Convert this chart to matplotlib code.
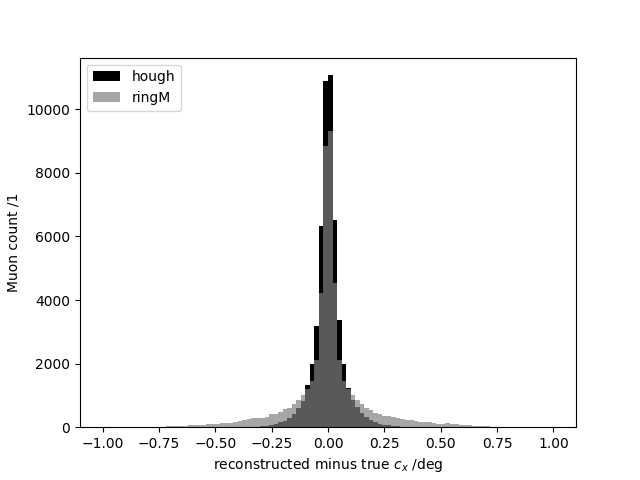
import numpy as np
import matplotlib
matplotlib.use('Agg')
import matplotlib.pyplot as plt

# 100 bins from -1 to 1 deg
edges = np.linspace(-1.0, 1.0, 101)
centers = 0.5 * (edges[:-1] + edges[1:])

hough = [0] * 20 + [1, 1, 2, 2, 2,
         3, 4, 5, 6, 8, 10, 12, 15, 18, 22,
         30, 45, 70, 100, 150, 210, 300, 430, 600, 820,
         1320, 1981, 3176, 6320, 10880, 11070, 6510, 3365, 1981, 1248,
         870, 640, 460, 330, 240, 170, 115, 80, 55, 38,
         27, 20, 15, 12, 9, 7, 5, 4, 3, 2,
         2, 1, 1, 1, 1] + [0] * 20

ringM = [0] * 13 + [15, 25, 30, 35, 42, 50, 58, 65, 72, 80, 90,
         105, 115, 125, 130, 135, 150, 190, 235, 250, 300,
         275, 300, 330, 400, 430, 490, 565, 610, 745, 850,
         1006, 1195, 1457, 2107, 4224, 8836, 9308, 4540, 2107, 1457,
         1195, 1006, 870, 745, 610, 535, 460, 430, 355, 345,
         325, 295, 270, 240, 220, 200, 170, 150, 150, 135,
         115, 115, 125, 95, 85, 75, 65, 55, 45, 35,
         28, 25, 20, 15] + [0] * 12

fig, ax = plt.subplots(figsize=(6.4, 4.8), dpi=100)
ax.hist(centers, bins=edges, weights=hough, color='black', label='hough')
ax.hist(centers, bins=edges, weights=ringM, color='gray', alpha=0.7, label='ringM')
ax.set_xlabel('reconstructed minus true $c_x$ /deg')
ax.set_ylabel('Muon count /1')
ax.legend(loc='upper left')
fig.savefig('out.png')
